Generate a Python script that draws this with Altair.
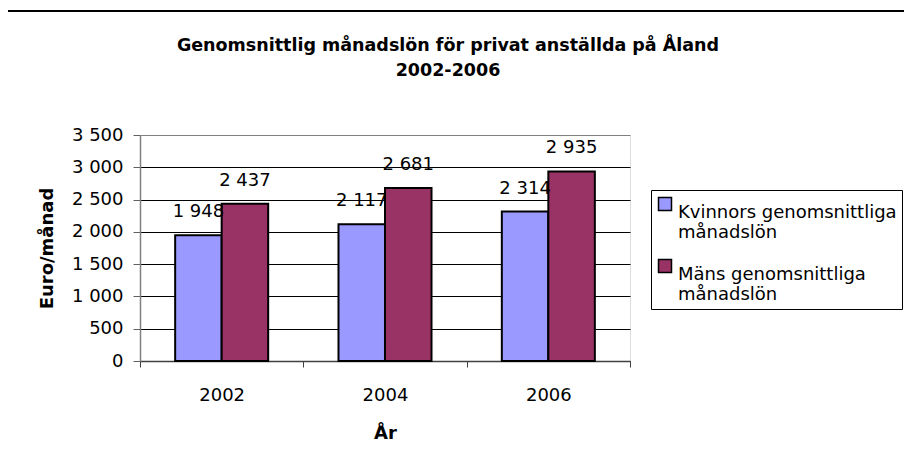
import altair as alt
import pandas as pd

years = ["2002", "2004", "2006"]
women = [1948, 2117, 2314]
men = [2437, 2681, 2935]
series = ["Kvinnors genomsnittliga månadslön", "Mäns genomsnittliga månadslön"]
colors = ["#9999FF", "#993366"]
y_ticks = [0, 500, 1000, 1500, 2000, 2500, 3000, 3500]
title_lines = ["Genomsnittlig månadslön för privat anställda på Åland", "2002-2006"]
x_title = "År"
y_title = "Euro/månad"

rows = []
for i, yr in enumerate(years):
    rows.append({"year": yr, "series": series[0], "value": women[i]})
    rows.append({"year": yr, "series": series[1], "value": men[i]})
df = pd.DataFrame(rows)

FONT = "DejaVu Sans"
FS = 18
fmt = "replace(format(datum.value, ','), ',', ' ')"

x_enc = alt.X(
    "year:N",
    title=x_title,
    scale=alt.Scale(paddingInner=0, paddingOuter=0),
    axis=alt.Axis(
        labelAngle=0, tickBand="extent", labelFontSize=FS, labelFont=FONT,
        labelColor="black", labelPadding=19, tickSize=6, tickColor="#404040",
        domainColor="#404040", domainWidth=1.5, titleFont=FONT, titleFontSize=FS,
        titleFontWeight="bold", titlePadding=20, titleColor="black", grid=False,
    ),
)
xo_enc = alt.XOffset(
    "series:N", scale=alt.Scale(domain=series, paddingInner=0, paddingOuter=0.756)
)
y_enc = alt.Y(
    "value:Q",
    title=y_title,
    scale=alt.Scale(domain=[0, 3500], nice=False),
    axis=alt.Axis(
        values=y_ticks, tickCount=8, labelExpr=fmt, labelFontSize=FS, labelFont=FONT,
        labelColor="black", labelPadding=10, labelOverlap=False, tickSize=7,
        tickColor="#606060", domainColor="#808080", domainWidth=1.5,
        grid=True, gridWidth=1,
        gridColor=alt.condition("datum.value == 3500", alt.value("#808080"), alt.value("black")),
        titleFont=FONT, titleFontSize=FS, titleFontWeight="bold", titlePadding=15,
        titleColor="black",
    ),
)

legend = alt.Legend(
    title=None, orient="none", legendX=511, legendY=55,
    labelExpr="[slice(datum.label, 0, lastindexof(datum.label, ' ')), slice(datum.label, lastindexof(datum.label, ' ') + 1)]",
    labelFont=FONT, labelFontSize=FS, labelColor="black", labelLimit=400,
    labelBaseline="top",
    symbolType="square", symbolSize=169, symbolStrokeColor="black",
    symbolStrokeWidth=1.5, symbolOpacity=1,
    strokeColor="black", padding=5, rowPadding=14, labelOffset=4,
)

base = alt.Chart(df).encode(x=x_enc, xOffset=xo_enc, y=y_enc)

bars = base.mark_bar(stroke="black", strokeWidth=2, opacity=1).encode(
    color=alt.Color("series:N", scale=alt.Scale(domain=series, range=colors), legend=legend),
)

labels = base.transform_calculate(
    lab="replace(format(datum.value, ','), ',', ' ')"
).mark_text(dy=-23, fontSize=FS, font=FONT, color="black").encode(
    text="lab:N",
)

border = alt.Chart(pd.DataFrame({"a": [0]})).mark_rect(
    fillOpacity=0, stroke="black", strokeWidth=2
).encode(
    x=alt.value(-133), y=alt.value(-124), x2=alt.value(800), y2=alt.value(400)
)

chart = alt.layer(bars, labels, border).properties(
    width=490,
    height=226,
    padding={"left": 132, "top": 127, "right": 274, "bottom": 94},
    autosize=alt.AutoSizeParams(type="none"),
    title=alt.TitleParams(
        text=title_lines, font=FONT, fontSize=17.5, fontWeight="bold",
        anchor="middle", frame="group", dx=63, offset=-69, lineHeight=25,
        color="black",
    ),
).configure_view(stroke="#808080", strokeWidth=2).configure(background="white")

chart.save("out.html", embed_options={"renderer": "svg", "actions": False})
